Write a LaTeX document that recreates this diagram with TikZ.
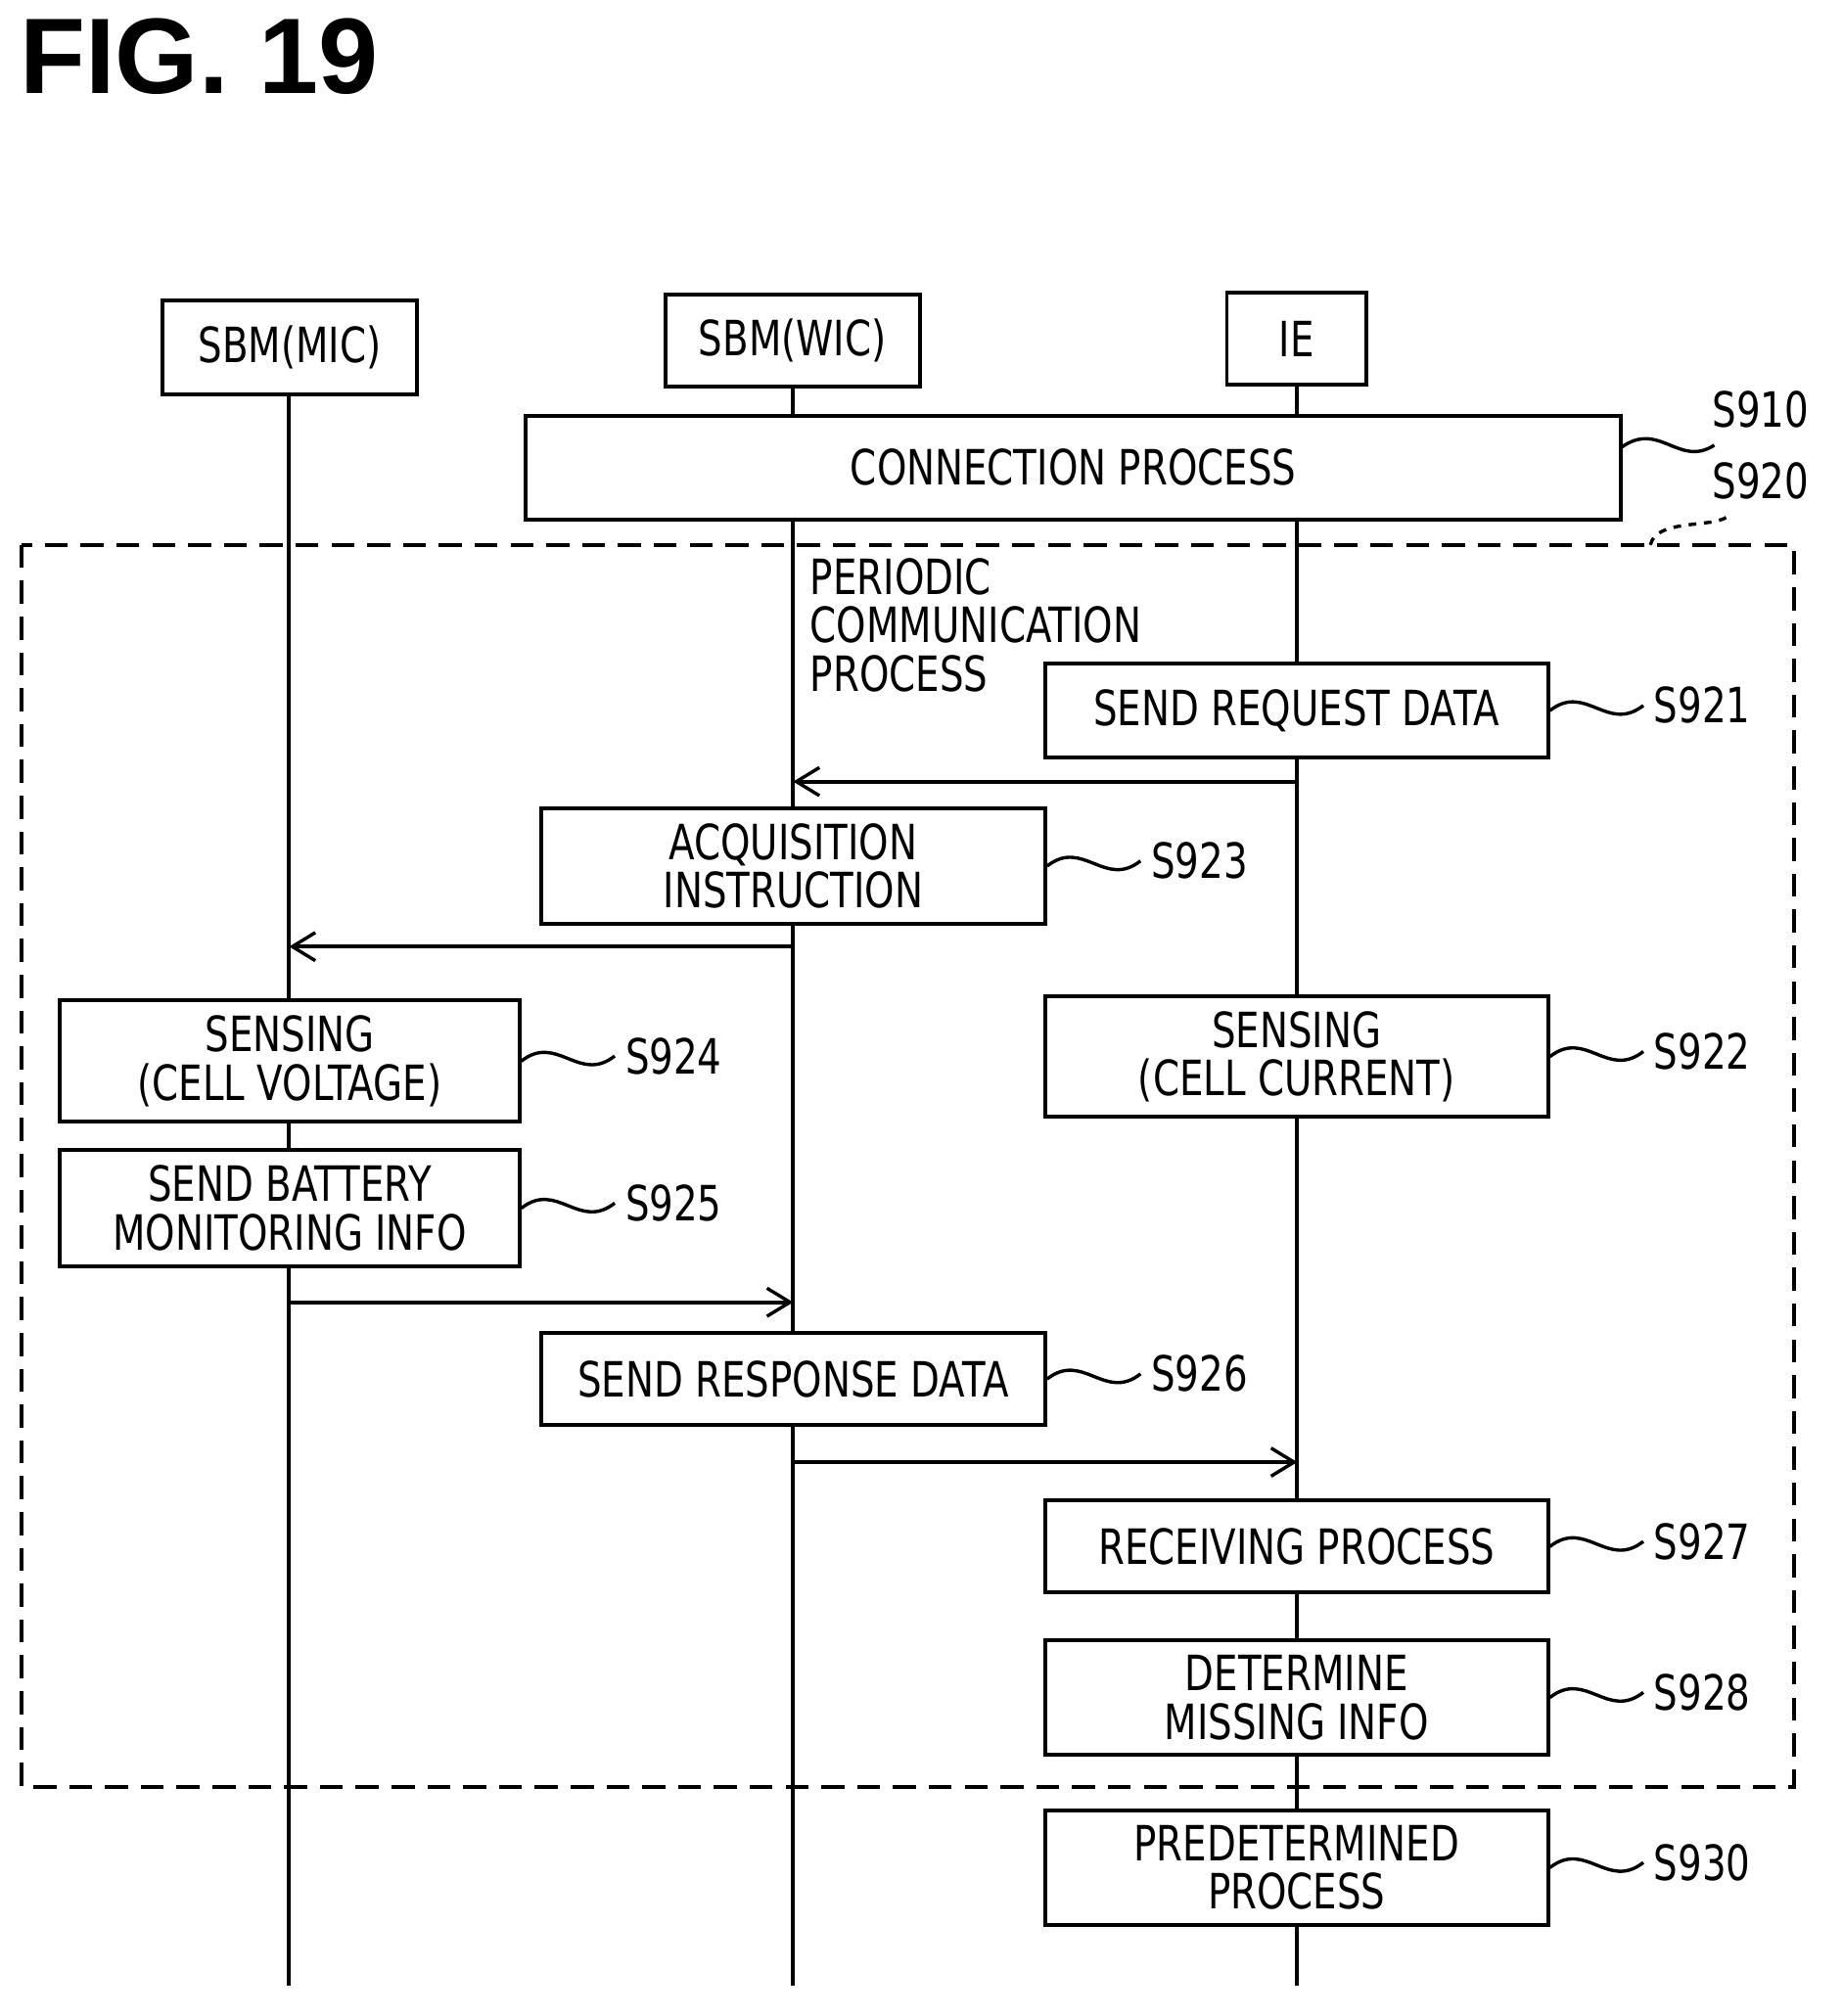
\documentclass[tikz,border=0pt]{standalone}
\usepackage{fontspec}
\setmainfont{DejaVu Sans}[FakeStretch=0.78]
\newfontfamily\titlefont{Liberation Sans}
\usetikzlibrary{arrows.meta}
\begin{document}
\begin{tikzpicture}[x=0.5pt,y=-0.5pt,
  box/.style={draw,line width=1.5pt,inner sep=0pt,align=center,font=\fontsize{19}{19}\selectfont},
  lbl/.style={anchor=west,font=\fontsize{19}{19}\selectfont,inner sep=0pt},
  life/.style={line width=1.5pt},
  msg/.style={line width=1.5pt,-{Straight Barb[length=9pt,width=11pt,line width=1.3pt]}},
  tl/.style={line width=1.3pt}]
\useasboundingbox (0,0) rectangle (1440,1576);
\node[anchor=north west,inner sep=0pt,font=\titlefont\bfseries\fontsize{42}{42}\selectfont] (title) at (15,14) {FIG. 19};
\newcommand\bx[6]{\node[box,minimum width=#4*0.5pt-#2*0.5pt,minimum height=#5*0.5pt-#3*0.5pt] (#1) at ({(#2+#4)/2},{(#3+#5)/2}) {#6};}
% lifelines
\coordinate (m0) at (226,308); \coordinate (m1) at (226,1552);
\coordinate (w0) at (620,302); \coordinate (w1) at (620,1552);
\coordinate (i0) at (1014,301); \coordinate (i1) at (1014,1552);
\draw[life] (m0)--(m1); \draw[life] (w0)--(w1); \draw[life] (i0)--(i1);
\draw[dashed,line width=1.5pt,dash pattern=on 9pt off 5pt] (17,426) rectangle (1402,1397);
\bx{mic}{127}{235}{326}{308}{SBM(MIC)}
\bx{wic}{520}{230}{719}{302}{SBM(WIC)}
\bx{ie}{959}{229}{1068}{301}{IE}
\node[box,fill=white,minimum width=428pt,minimum height=40.5pt] (s910) at (839,365.5) {CONNECTION PROCESS};
\node[anchor=north west,inner sep=0pt,align=left,font=\fontsize{19}{19}\selectfont] (pcp) at (633,436) {PERIODIC\\COMMUNICATION\\PROCESS};
\bx{s921}{817}{519}{1210}{592}{}
\node[box,draw=none,fill=white] at (s921) {SEND REQUEST DATA};
\draw[box,fill=white] (817,519) rectangle (1210,592);
\node[font=\fontsize{19}{19}\selectfont] at (s921) {SEND REQUEST DATA};
\bx{s923}{423}{632}{817}{722}{ACQUISITION\\INSTRUCTION}
\bx{s924}{47}{782}{406}{877}{SENSING\\(CELL VOLTAGE)}
\bx{s922}{817}{779}{1210}{873}{SENSING\\(CELL CURRENT)}
\bx{s925}{47}{899}{406}{990}{SEND BATTERY\\MONITORING INFO}
\bx{s926}{423}{1042}{817}{1114}{SEND RESPONSE DATA}
\bx{s927}{817}{1173}{1210}{1245}{RECEIVING PROCESS}
\bx{s928}{817}{1282}{1210}{1372}{DETERMINE\\MISSING INFO}
\bx{s930}{817}{1415}{1210}{1505}{PREDETERMINED\\PROCESS}
\foreach \n in {s921,s923,s924,s922,s925,s926,s927,s928,s930} {\fill[white] (\n.north west) rectangle (\n.south east);}
\bx{s921b}{817}{519}{1210}{592}{SEND REQUEST DATA}
\bx{s923b}{423}{632}{817}{722}{ACQUISITION\\INSTRUCTION}
\bx{s924b}{47}{782}{406}{877}{SENSING\\(CELL VOLTAGE)}
\bx{s922b}{817}{779}{1210}{873}{SENSING\\(CELL CURRENT)}
\bx{s925b}{47}{899}{406}{990}{SEND BATTERY\\MONITORING INFO}
\bx{s926b}{423}{1042}{817}{1114}{SEND RESPONSE DATA}
\bx{s927b}{817}{1173}{1210}{1245}{RECEIVING PROCESS}
\bx{s928b}{817}{1282}{1210}{1372}{DETERMINE\\MISSING INFO}
\bx{s930b}{817}{1415}{1210}{1505}{PREDETERMINED\\PROCESS}
% messages
\coordinate (a1s) at (1014,611); \coordinate (a1e) at (620,611);
\coordinate (a2s) at (620,740); \coordinate (a2e) at (226,740);
\coordinate (a3s) at (226,1018); \coordinate (a3e) at (620,1018);
\coordinate (a4s) at (620,1143); \coordinate (a4e) at (1014,1143);
\draw[msg] (a1s)--(a1e); \draw[msg] (a2s)--(a2e);
\draw[msg] (a3s)--(a3e); \draw[msg] (a4s)--(a4e);
% labels
\newcommand\tlab[4]{\draw[tl,#4] (#1) .. controls +(28,-22) and +(-28,22) .. ++(73,-4) coordinate (#2e); \node[lbl] (#2) at ([xshift=4pt]#2e) {#3};}
\coordinate (t910) at (1267,350); \draw[tl] (t910) .. controls +(30,-22) and +(-28,18) .. (1340,348) coordinate (t910e);
\node[lbl] (l910) at (1338,320) {S910};
\coordinate (t920) at (1290,426); \draw[tl,dashed] (t920) .. controls +(5,-22) and +(-8,12) .. (1352,402);
\node[lbl] (l920) at (1338,376) {S920};
\tlab{s921b.east}{l921}{S921}{}
\tlab{s923b.east}{l923}{S923}{}
\tlab{s924b.east}{l924}{S924}{}
\tlab{s922b.east}{l922}{S922}{}
\tlab{s925b.east}{l925}{S925}{}
\tlab{s926b.east}{l926}{S926}{}
\tlab{s927b.east}{l927}{S927}{}
\tlab{s928b.east}{l928}{S928}{}
\tlab{s930b.east}{l930}{S930}{}
\end{tikzpicture}
\end{document}
